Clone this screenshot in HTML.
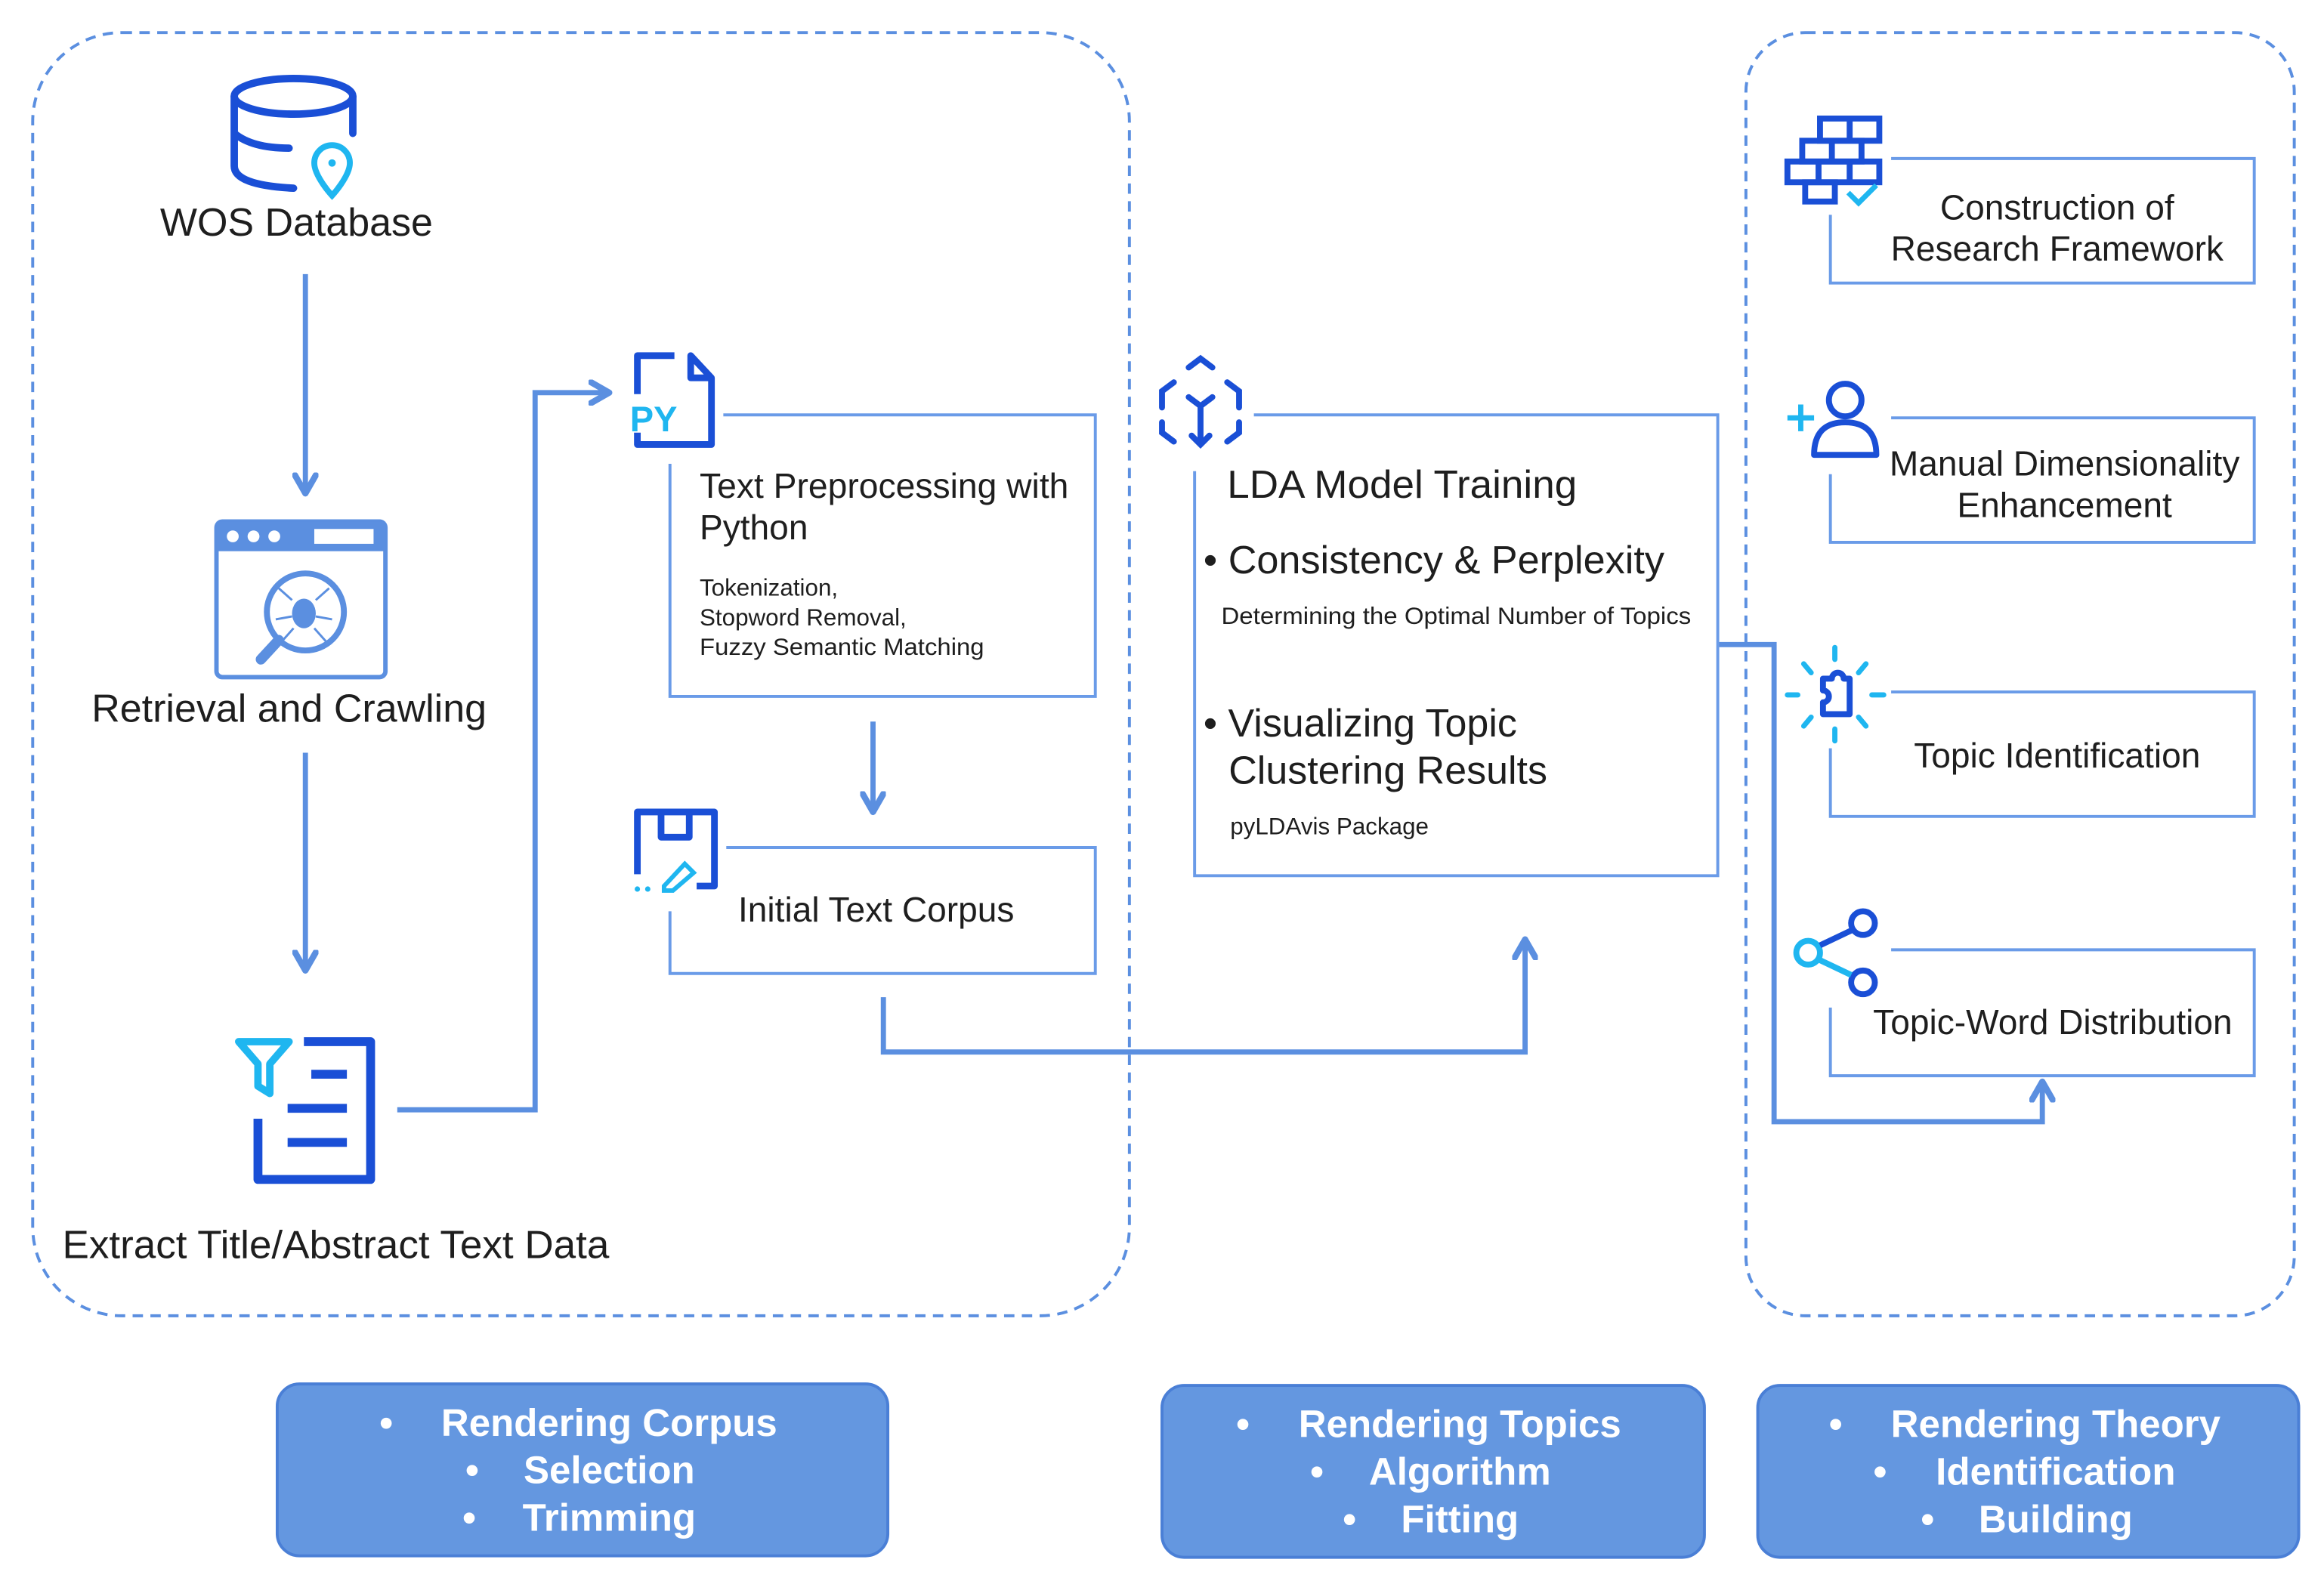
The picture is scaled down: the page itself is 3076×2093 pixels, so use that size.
<!DOCTYPE html>
<html><head><meta charset="utf-8"><style>
html,body{margin:0;padding:0;background:#fff;}
svg{display:block;}
text{font-family:"Liberation Sans",sans-serif;fill:#1e1e1e;}
.w{fill:#fff;font-weight:bold;}
</style></head><body>
<svg width="3076" height="2093" viewBox="0 0 1568 1067" xmlns="http://www.w3.org/2000/svg">
<defs>
<marker id="ah" viewBox="0 0 10 10" refX="8" refY="5" markerWidth="5" markerHeight="5" orient="auto">
<path d="M1,1 L8,5 L1,9" fill="none" stroke="#5b8fe0" stroke-width="2.4" stroke-linecap="round" stroke-linejoin="round"/>
</marker>
</defs>
<rect x="22" y="22" width="740" height="866" rx="60" fill="none" stroke="#5b8fe0" stroke-width="2" stroke-dasharray="7,5"/>
<rect x="1178" y="22" width="370" height="866" rx="40" fill="none" stroke="#5b8fe0" stroke-width="2" stroke-dasharray="7,5"/>

<g stroke="#5b8fe0" stroke-width="3.5" fill="none">
<line x1="206" y1="185" x2="206" y2="333" marker-end="url(#ah)"/>
<line x1="206" y1="508" x2="206" y2="655" marker-end="url(#ah)"/>
<polyline points="268,749 361,749 361,265 411,265" marker-end="url(#ah)"/>
<line x1="589" y1="487" x2="589" y2="548" marker-end="url(#ah)"/>
<polyline points="596,673 596,710 1029,710 1029,634" marker-end="url(#ah)"/>
<polyline points="1159,435 1197,435 1197,757 1378,757 1378,730" marker-end="url(#ah)"/>
</g>

<g stroke="#6a9be8" stroke-width="2" fill="none">
<polyline points="488,280 739,280 739,470 452,470 452,313"/>
<polyline points="490,572 739,572 739,657 452,657 452,615"/>
<polyline points="846,280 1159,280 1159,591 806,591 806,318"/>
<polyline points="1276,107 1521,107 1521,191 1235,191 1235,145"/>
<polyline points="1276,282 1521,282 1521,366 1235,366 1235,320"/>
<polyline points="1276,467 1521,467 1521,551 1235,551 1235,505"/>
<polyline points="1276,641 1521,641 1521,726 1235,726 1235,680"/>
</g>

<g fill="none" stroke="#1a4fd6" stroke-width="5" stroke-linecap="round">
<ellipse cx="198" cy="65" rx="40" ry="12"/>
<path d="M158,65 V112 Q158,125 198,127 M238,65 V90 M158,90 Q170,100 195,100"/>
</g>
<path d="M224,98 a12,12 0 0 1 12,12 c0,9 -12,22 -12,22 c0,0 -12,-13 -12,-22 a12,12 0 0 1 12,-12z" fill="none" stroke="#1fb6f0" stroke-width="4"/>
<circle cx="224" cy="110" r="2.5" fill="#1fb6f0"/>
<rect x="146" y="352" width="114" height="105" rx="4" fill="none" stroke="#5b8fe0" stroke-width="3"/>
<rect x="146" y="352" width="114" height="20" fill="#5b8fe0"/>
<circle cx="157" cy="362" r="4" fill="#fff"/><circle cx="171" cy="362" r="4" fill="#fff"/><circle cx="185" cy="362" r="4" fill="#fff"/>
<rect x="212" y="357" width="40" height="10" fill="#fff"/>
<circle cx="206" cy="413" r="26" fill="none" stroke="#5b8fe0" stroke-width="4"/>
<line x1="188" y1="432" x2="176" y2="445" stroke="#5b8fe0" stroke-width="7" stroke-linecap="round"/>
<ellipse cx="205" cy="414" rx="8" ry="10" fill="#5b8fe0"/>
<g stroke="#5b8fe0" stroke-width="1.5"><path d="M197,405 L188,397 M213,405 L222,397 M197,416 L186,418 M213,416 L224,418 M198,424 L190,433 M212,424 L220,433"/></g>
<path d="M161,703 H195 L182,718 V738 L174,733 V718 Z" fill="none" stroke="#1fb6f0" stroke-width="5" stroke-linejoin="round"/>
<path d="M205,703 H250 V796 H174 V755" fill="none" stroke="#1a4fd6" stroke-width="6" stroke-linejoin="round"/>
<g stroke="#1a4fd6" stroke-width="6"><line x1="210" y1="725" x2="234" y2="725"/><line x1="194" y1="748" x2="234" y2="748"/><line x1="194" y1="771" x2="234" y2="771"/></g>
<path d="M455,240 H430 V266 M430,292 V300 H480 V255 L466,240 V255 H480" fill="none" stroke="#1a4fd6" stroke-width="4.5" stroke-linejoin="round"/>
<text x="425" y="291" style="font-size:24px;font-weight:bold;fill:#1fb6f0">PY</text>
<path d="M430,590 V548 H482 V598 H470 M446,548 V565 H465 V548" fill="none" stroke="#1a4fd6" stroke-width="4.5" stroke-linejoin="round"/>
<path d="M448,598 L462,583 L468,589 L454,601 H448Z" fill="none" stroke="#1fb6f0" stroke-width="3"/>
<circle cx="430" cy="600" r="1.8" fill="#1fb6f0"/><circle cx="437" cy="600" r="1.8" fill="#1fb6f0"/>
<g fill="none" stroke="#1a4fd6" stroke-width="4" stroke-linecap="round">
<path d="M802,248 L810,242 L818,248 M792,258 L784,264 V275 M828,258 L836,264 V275 M784,285 V292 L792,298 M836,285 V292 L828,298 M810,283 V300 M804,294 L810,300 L816,294 M802,268 L810,274 L818,268 M810,274 V283"/>
</g>
<g fill="none" stroke="#1a4fd6" stroke-width="4">
<rect x="1228" y="80" width="40" height="15"/><line x1="1248" y1="80" x2="1248" y2="95"/>
<rect x="1216" y="95" width="40" height="14"/><line x1="1236" y1="95" x2="1236" y2="109"/>
<rect x="1206" y="109" width="62" height="14"/><line x1="1227" y1="109" x2="1227" y2="123"/><line x1="1248" y1="109" x2="1248" y2="123"/>
<rect x="1218" y="123" width="20" height="13"/>
</g>
<path d="M1247,130 L1254,137 L1266,125" fill="none" stroke="#1fb6f0" stroke-width="3.5"/>
<circle cx="1245" cy="270" r="11" fill="none" stroke="#1a4fd6" stroke-width="4"/>
<path d="M1224,307 Q1224,285 1245,285 Q1266,285 1266,307 Z" fill="none" stroke="#1a4fd6" stroke-width="4" stroke-linejoin="round"/>
<path d="M1206,282 H1224 M1215,273 V291" stroke="#1fb6f0" stroke-width="3.5"/>
<path d="M1230,458 H1236 a4,4 0 0 1 8,0 H1248 V482 H1230 V474 a4,4 0 0 0 0,-8 Z" fill="none" stroke="#1a4fd6" stroke-width="4" stroke-linejoin="round"/>
<g stroke="#1fb6f0" stroke-width="3.5" stroke-linecap="round">
<line x1="1238" y1="437" x2="1238" y2="445"/><line x1="1238" y1="492" x2="1238" y2="500"/>
<line x1="1206" y1="469" x2="1213" y2="469"/><line x1="1263" y1="469" x2="1271" y2="469"/>
<line x1="1217" y1="448" x2="1222" y2="454"/><line x1="1259" y1="448" x2="1254" y2="454"/>
<line x1="1217" y1="490" x2="1222" y2="484"/><line x1="1259" y1="490" x2="1254" y2="484"/>
</g>
<circle cx="1257" cy="623" r="8" fill="none" stroke="#1a4fd6" stroke-width="4"/>
<circle cx="1257" cy="663" r="8" fill="none" stroke="#1a4fd6" stroke-width="4"/>
<circle cx="1220" cy="643" r="8" fill="none" stroke="#1fb6f0" stroke-width="4"/>
<line x1="1228" y1="638" x2="1249" y2="628" stroke="#1a4fd6" stroke-width="4"/>
<line x1="1228" y1="648" x2="1249" y2="658" stroke="#1fb6f0" stroke-width="4"/>

<text x="200" y="159" text-anchor="middle" style="font-size:26.5px">WOS Database</text>
<text x="195" y="487" text-anchor="middle" style="font-size:26.5px">Retrieval and Crawling</text>
<text x="42" y="849" style="font-size:26.5px" textLength="369" lengthAdjust="spacingAndGlyphs">Extract Title/Abstract Text Data</text>
<text x="472" y="336" style="font-size:23.5px" textLength="249" lengthAdjust="spacingAndGlyphs">Text Preprocessing with</text>
<text x="472" y="364" style="font-size:23.5px">Python</text>
<text x="472" y="402" style="font-size:16px">Tokenization,</text>
<text x="472" y="422" style="font-size:16px">Stopword Removal,</text>
<text x="472" y="442" style="font-size:16px" textLength="192" lengthAdjust="spacingAndGlyphs">Fuzzy Semantic Matching</text>
<text x="498" y="622" style="font-size:23.5px">Initial Text Corpus</text>
<text x="828" y="336" style="font-size:26.5px" textLength="236" lengthAdjust="spacingAndGlyphs">LDA Model Training</text>
<text x="812" y="387" style="font-size:26.5px" textLength="311" lengthAdjust="spacingAndGlyphs">• Consistency &amp; Perplexity</text>
<text x="824" y="421" style="font-size:16px" textLength="317" lengthAdjust="spacingAndGlyphs">Determining the Optimal Number of Topics</text>
<text x="812" y="497" style="font-size:26.5px">• Visualizing Topic</text>
<text x="829" y="529" style="font-size:26.5px">Clustering Results</text>
<text x="830" y="563" style="font-size:16px">pyLDAvis Package</text>
<text x="1388" y="148" text-anchor="middle" style="font-size:23.5px">Construction of</text>
<text x="1388" y="176" text-anchor="middle" style="font-size:23.5px">Research Framework</text>
<text x="1393" y="321" text-anchor="middle" style="font-size:23.5px">Manual Dimensionality</text>
<text x="1393" y="349" text-anchor="middle" style="font-size:23.5px">Enhancement</text>
<text x="1388" y="518" text-anchor="middle" style="font-size:23.5px">Topic Identification</text>
<text x="1385" y="698" text-anchor="middle" style="font-size:23.5px">Topic-Word Distribution</text>

<g fill="#6497e0" stroke="#4a7fd6" stroke-width="2">
<rect x="187" y="934" width="412" height="116" rx="15"/>
<rect x="784" y="935" width="366" height="116" rx="15"/>
<rect x="1186" y="935" width="365" height="116" rx="15"/>
</g>
<g style="font-size:26px">
<text class="w" x="256" y="969">•</text><text class="w" x="411" y="969" text-anchor="middle">Rendering Corpus</text>
<text class="w" x="314" y="1001">•</text><text class="w" x="411" y="1001" text-anchor="middle">Selection</text>
<text class="w" x="312" y="1033">•</text><text class="w" x="411" y="1033" text-anchor="middle">Trimming</text>
<text class="w" x="834" y="970">•</text><text class="w" x="985" y="970" text-anchor="middle">Rendering Topics</text>
<text class="w" x="884" y="1002">•</text><text class="w" x="985" y="1002" text-anchor="middle">Algorithm</text>
<text class="w" x="906" y="1034">•</text><text class="w" x="985" y="1034" text-anchor="middle">Fitting</text>
<text class="w" x="1234" y="970">•</text><text class="w" x="1387" y="970" text-anchor="middle">Rendering Theory</text>
<text class="w" x="1264" y="1002">•</text><text class="w" x="1387" y="1002" text-anchor="middle">Identification</text>
<text class="w" x="1296" y="1034">•</text><text class="w" x="1387" y="1034" text-anchor="middle">Building</text>
</g>
</svg>
</body></html>
